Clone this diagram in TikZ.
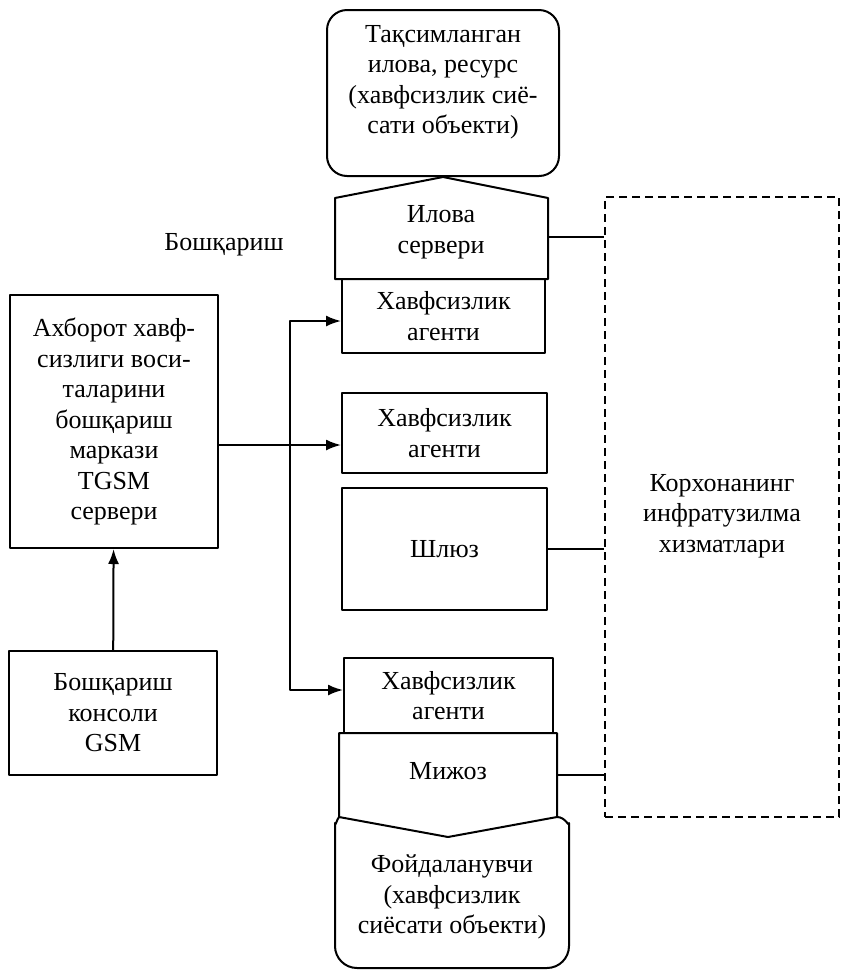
\documentclass[tikz,border=0pt]{standalone}
\usepackage{fontspec}
\setmainfont{Liberation Serif}
\usetikzlibrary{arrows.meta}
\tikzset{
  ln/.style={line width=2pt, line join=round},
  box/.style={ln, draw, rectangle, inner sep=0pt},
  txt/.style={align=center, inner sep=0pt, font=\fontsize{26}{30.5}\selectfont},
  arr/.style={ln, -{Latex[length=15pt,width=11pt]}},
  dbox/.style={draw, line width=2pt, dash pattern=on 8pt off 5pt, rectangle, inner sep=0pt}
}
\begin{document}
\begin{tikzpicture}[x=1pt,y=-1pt]
\useasboundingbox (0,0) rectangle (844,970);
% top resource box
\node[box, rounded corners=20pt, minimum width=232pt, minimum height=166pt] (res) at (443,93) {};
\node[txt] (restext) at (443,82) {Тақсимланган\\илова, ресурс\\(хавфсизлик сиё-\\сати объекти)};
% application server
\coordinate (appTL) at (335,198);
\coordinate (appTR) at (548,198);
\coordinate (appBL) at (335,279);
\coordinate (appBR) at (548,279);
\coordinate (appR) at (548,237);
\draw[ln] (res.south) -- (appTL) -- (appBL) -- (appBR) -- (appTR) -- cycle;
\node[txt] (apptext) at (441,232) {Илова\\сервери};
% agents
\node[box, minimum width=203pt, minimum height=74pt, txt] (ag1) at (443.5,316) {Хавфсизлик\\агенти};
\node[box, minimum width=205pt, minimum height=80pt, txt] (ag2) at (444.5,433) {Хавфсизлик\\агенти};
\node[box, minimum width=205pt, minimum height=122pt, txt] (gw) at (444.5,549) {Шлюз};
\node[box, minimum width=209pt, minimum height=75pt, txt] (ag3) at (448.5,695.5) {Хавфсизлик\\агенти};
% client
\coordinate (cTL) at (339,733);
\coordinate (cTR) at (557,733);
\coordinate (cBL) at (339,817);
\coordinate (cBR) at (557,817);
\coordinate (cV) at (448,837);
\coordinate (cR) at (557,775);
\draw[ln] (cTL) -- (cBL) -- (cV) -- (cBR) -- (cTR) -- cycle;
\node[txt] (ctext) at (448,771) {Мижоз};
% user
\draw[ln, rounded corners=22pt] (cBR) .. controls (566,817) and (569,828) .. (569,845)
  -- (569,968) -- (335,968) -- (335,845) [sharp corners] .. controls (335,828) and (337,819) .. (cBL);
\node[txt] (utext) at (452,897) {Фойдаланувчи\\(хавфсизлик\\сиёсати объекти)};
% left boxes
\node[box, minimum width=208pt, minimum height=253pt, txt] (lb) at (114,421.5) {Ахборот хавф-\\сизлиги воси-\\таларини\\бошқариш\\маркази\\TGSM\\сервери};
\node[box, minimum width=208pt, minimum height=124pt, txt] (con) at (113,713) {Бошқариш\\консоли\\GSM};
\node[txt] (mgmt) at (224,245) {Бошқариш};
% infrastructure
\node[dbox, minimum width=234pt, minimum height=620pt] (inf) at (722,507) {};
\node[txt] (inftext) at (722,516) {Корхонанинг\\инфратузилма\\хизматлари};
% connectors
\coordinate (j) at (290,445);
\coordinate (b1) at (290,321);
\coordinate (b3) at (290,690);
\draw[arr] (con) -- (lb);
\draw[arr] (lb.east |- j) -- (ag2.west |- j);
\draw[ln, {Latex[length=15pt,width=11pt]}-{Latex[length=15pt,width=11pt]}] (ag1.west |- b1) -- (b1) -- (b3) -- (ag3.west |- b3);
\draw[ln] (appR) -- (inf.west |- appR);
\draw[ln] (gw.east) -- (inf.west |- gw.east);
\draw[ln] (cR) -- (inf.west |- cR);
\end{tikzpicture}
\end{document}
